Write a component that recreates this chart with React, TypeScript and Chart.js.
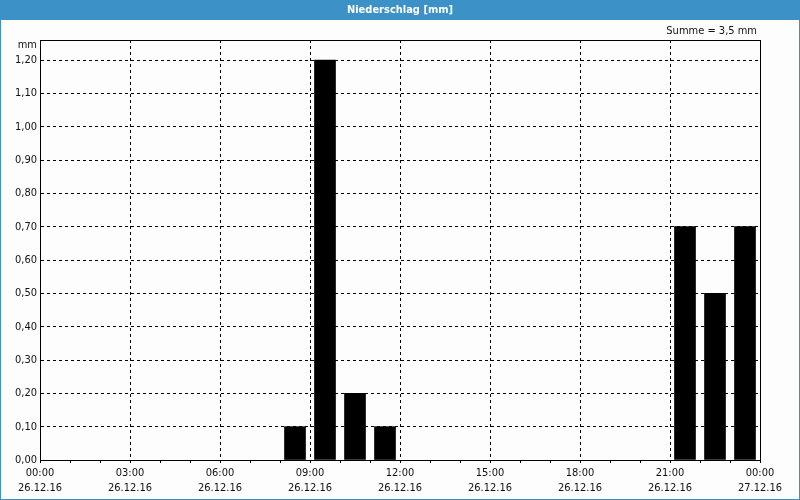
import React, { useEffect, useRef } from 'react';
import { Chart, registerables } from 'chart.js';

Chart.register(...registerables);

const TITLE = 'Niederschlag [mm]';
const UNIT = 'mm';
const SUM_LABEL = 'Summe';
const DATE_START = '26.12.16';
const DATE_END = '27.12.16';

// hourly slots (start hour) and precipitation per hour in mm
const hourSlots = [0, 1, 2, 3, 4, 5, 6, 7, 8, 9, 10, 11, 12, 13, 14, 15, 16, 17, 18, 19, 20, 21, 22, 23];
const precipitation = [0, 0, 0, 0, 0, 0, 0, 0, 0.1, 1.2, 0.2, 0.1, 0, 0, 0, 0, 0, 0, 0, 0, 0, 0.7, 0.5, 0.7];

const xLabelHours = [0, 3, 6, 9, 12, 15, 18, 21, 24];
const yTickValues = [0, 0.1, 0.2, 0.3, 0.4, 0.5, 0.6, 0.7, 0.8, 0.9, 1.0, 1.1, 1.2];
const Y_MAX = 1.26;

const FONT = "'DejaVu Sans Condensed', 'Liberation Sans', sans-serif";
const BLUE = '#3c91c7';
const TEXT = '#111111';

const fmtComma = (v: number, d: number) => v.toFixed(d).replace('.', ',');

const framePlugin = {
  id: 'frame',
  beforeDraw(chart: any) {
    const ctx = chart.ctx;
    const w = chart.width;
    const h = chart.height;
    ctx.save();
    ctx.fillStyle = '#fcfdfc';
    ctx.fillRect(0, 0, w, h);
    ctx.fillStyle = BLUE;
    ctx.fillRect(0, 0, w, 20);
    ctx.strokeStyle = BLUE;
    ctx.lineWidth = 1;
    ctx.strokeRect(0.5, 0.5, w - 1, h - 1);
    ctx.fillStyle = '#ffffff';
    ctx.font = `bold 11px ${FONT}`;
    ctx.textAlign = 'center';
    ctx.textBaseline = 'middle';
    ctx.fillText(TITLE, w / 2, 10.5);
    const sum = precipitation.reduce((a, b) => a + b, 0);
    ctx.fillStyle = TEXT;
    ctx.font = `11px ${FONT}`;
    ctx.textAlign = 'right';
    ctx.fillText(`${SUM_LABEL} = ${fmtComma(sum, 1)} ${UNIT}`, chart.chartArea.right - 3, 31);
    ctx.fillText(UNIT, chart.chartArea.left - 3, 45);
    ctx.restore();
  },
  afterDraw(chart: any) {
    const { left, top, right, bottom } = chart.chartArea;
    const ctx = chart.ctx;
    ctx.save();
    ctx.strokeStyle = '#000';
    ctx.lineWidth = 1;
    ctx.setLineDash([]);
    ctx.strokeRect(left + 0.5, top + 0.5, right - left, bottom - top);
    ctx.restore();
  },
};

export default function App() {
  const ref = useRef<HTMLCanvasElement>(null);
  useEffect(() => {
    if (!ref.current) return;
    const chart = new Chart(ref.current, {
      type: 'bar',
      data: {
        datasets: [
          {
            data: hourSlots.map((h, i) => ({ x: h + 0.5, y: precipitation[i] > 0 ? precipitation[i] : null })),
            backgroundColor: '#000000',
            borderWidth: 0,
            barThickness: 21,
          },
        ],
      },
      options: {
        responsive: false,
        animation: false,
        events: [],
        layout: { padding: { left: 0, right: 40, top: 40, bottom: 0 } },
        plugins: {
          legend: { display: false },
          title: { display: false },
          tooltip: { enabled: false },
        },
        scales: {
          x: {
            type: 'linear',
            min: 0,
            max: 24,
            offset: false,
            afterFit: (s: any) => {
              s.height = 40;
            },
            afterBuildTicks: (s: any) => {
              s.ticks = hourSlots.concat([24]).map((v) => ({ value: v }));
            },
            ticks: {
              autoSkip: false,
              maxRotation: 0,
              minRotation: 0,
              padding: 2,
              color: TEXT,
              font: { family: FONT, size: 11, lineHeight: 1.4 },
              callback: (v: any) => {
                const n = Number(v);
                if (!xLabelHours.includes(n)) return '';
                const hh = String(n % 24).padStart(2, '0') + ':00';
                return [hh, n >= 24 ? DATE_END : DATE_START];
              },
            },
            grid: {
              offset: false,
              drawTicks: true,
              tickLength: 3,
              tickColor: '#000',
              tickWidth: 1,
              lineWidth: 1,
              color: (c: any) =>
                c.tick && xLabelHours.includes(c.tick.value) ? '#000' : 'rgba(0,0,0,0)',
            },
            border: { display: true, color: '#000', dash: [3, 3] },
          },
          y: {
            min: 0,
            max: Y_MAX,
            afterFit: (s: any) => {
              s.width = 40;
            },
            afterBuildTicks: (s: any) => {
              s.ticks = yTickValues.map((v) => ({ value: v }));
            },
            ticks: {
              padding: 3,
              color: TEXT,
              font: { family: FONT, size: 11 },
              callback: (v: any) => fmtComma(Number(v), 2),
            },
            grid: {
              drawTicks: false,
              color: '#000',
              lineWidth: 1,
            },
            border: { display: true, color: '#000', dash: [3, 3] },
          },
        },
      },
      plugins: [framePlugin],
    } as any);
    return () => chart.destroy();
  }, []);
  return (
    <div style={{ position: 'absolute', left: 0, top: 0, width: 800, height: 500 }}>
      <canvas ref={ref} width={800} height={500} />
    </div>
  );
}
